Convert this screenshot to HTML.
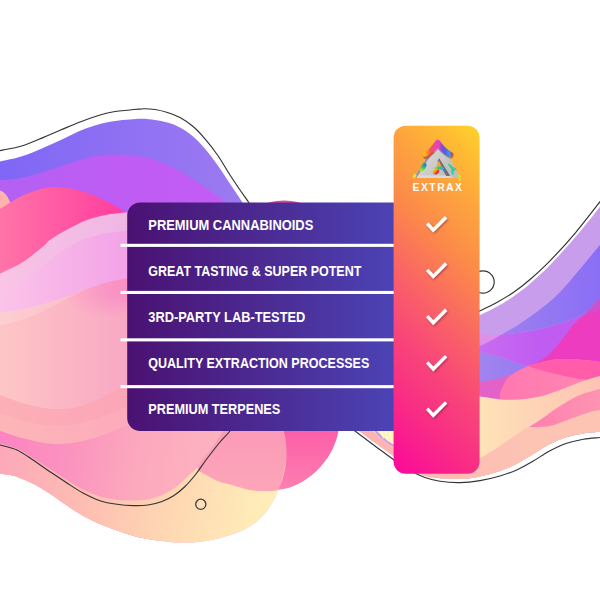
<!DOCTYPE html>
<html lang="en"><head><meta charset="utf-8"><title>Extrax comparison</title>
<style>
html,body{margin:0;padding:0;background:#fff;}
body{width:600px;height:600px;overflow:hidden;}
svg{display:block;}
.lbl text{font-family:"Liberation Sans",Arial,sans-serif;font-weight:700;font-size:14.3px;fill:#fff;}
.brand{font-family:"Liberation Sans",Arial,sans-serif;font-weight:700;font-size:10.4px;fill:#fff;}
</style></head><body>
<svg width="600" height="600" viewBox="0 0 600 600">
<defs>
<linearGradient id="gBV" x1="0" y1="0" x2="1" y2="0"><stop offset="0" stop-color="#7f66f6"/><stop offset="1" stop-color="#a07cf0"/></linearGradient>
<linearGradient id="gVI" x1="0" y1="0" x2="1" y2="0"><stop offset="0" stop-color="#b260f3"/><stop offset="0.5" stop-color="#bf5cf4"/><stop offset="1" stop-color="#c45cf5"/></linearGradient>
<linearGradient id="gPK" gradientUnits="userSpaceOnUse" x1="0" y1="0" x2="130" y2="0"><stop offset="0" stop-color="#ff74a8"/><stop offset="1" stop-color="#ff3a9e"/></linearGradient>
<linearGradient id="gLP1" gradientUnits="userSpaceOnUse" x1="0" y1="0" x2="130" y2="0"><stop offset="0" stop-color="#f9c4e6"/><stop offset="1" stop-color="#efb6e4"/></linearGradient>
<linearGradient id="gLP2" gradientUnits="userSpaceOnUse" x1="0" y1="0" x2="130" y2="0"><stop offset="0" stop-color="#fbc4e8"/><stop offset="1" stop-color="#f3a2e8"/></linearGradient>
<linearGradient id="gBody" gradientUnits="userSpaceOnUse" x1="0" y1="0" x2="135" y2="0"><stop offset="0" stop-color="#fdc6c6"/><stop offset="0.55" stop-color="#fbb4c4"/><stop offset="1" stop-color="#f8a6c5"/></linearGradient>
<linearGradient id="gHot" gradientUnits="userSpaceOnUse" x1="0" y1="430" x2="230" y2="470"><stop offset="0" stop-color="#fb84c1"/><stop offset="0.3" stop-color="#fb92bf"/><stop offset="0.6" stop-color="#fca8bd"/><stop offset="1" stop-color="#fdb5c0"/></linearGradient>
<linearGradient id="gB1" gradientUnits="userSpaceOnUse" x1="0" y1="0" x2="135" y2="0"><stop offset="0" stop-color="#fcb0b6"/><stop offset="1" stop-color="#fca4b8"/></linearGradient>
<linearGradient id="gB2" gradientUnits="userSpaceOnUse" x1="0" y1="0" x2="135" y2="0"><stop offset="0" stop-color="#fdb6b8"/><stop offset="1" stop-color="#fcaabb"/></linearGradient>
<linearGradient id="gBase" gradientUnits="userSpaceOnUse" x1="0" y1="450" x2="285" y2="510"><stop offset="0" stop-color="#fca8ba"/><stop offset="0.3" stop-color="#fdbcb2"/><stop offset="0.6" stop-color="#fed6b2"/><stop offset="1" stop-color="#fff2ba"/></linearGradient>
<linearGradient id="gYel" gradientUnits="userSpaceOnUse" x1="120" y1="0" x2="280" y2="0"><stop offset="0" stop-color="#fdcdb2"/><stop offset="1" stop-color="#fff1b9"/></linearGradient>
<linearGradient id="gLobeA" x1="0" y1="0" x2="0" y2="1"><stop offset="0" stop-color="#fc98b8"/><stop offset="1" stop-color="#fca6b8"/></linearGradient>
<linearGradient id="gLobeB" x1="0" y1="0" x2="0" y2="1"><stop offset="0" stop-color="#fc5ca8"/><stop offset="1" stop-color="#fc7fb0"/></linearGradient>
<linearGradient id="gBV2" gradientUnits="userSpaceOnUse" x1="480" y1="0" x2="600" y2="0"><stop offset="0" stop-color="#a184ee"/><stop offset="1" stop-color="#8a6ef5"/></linearGradient>
<linearGradient id="gVB" gradientUnits="userSpaceOnUse" x1="480" y1="0" x2="600" y2="0"><stop offset="0" stop-color="#c86cf0"/><stop offset="0.5" stop-color="#c05cf2"/><stop offset="1" stop-color="#c25cf0"/></linearGradient>
<linearGradient id="gPB" gradientUnits="userSpaceOnUse" x1="500" y1="0" x2="600" y2="0"><stop offset="0" stop-color="#ff78b0"/><stop offset="1" stop-color="#ff88b0"/></linearGradient>
<linearGradient id="gPeach" gradientUnits="userSpaceOnUse" x1="480" y1="0" x2="600" y2="0"><stop offset="0" stop-color="#fee3b8"/><stop offset="1" stop-color="#fec2b4"/></linearGradient>
<linearGradient id="gSP" gradientUnits="userSpaceOnUse" x1="360" y1="0" x2="520" y2="0"><stop offset="0" stop-color="#fdb2b2"/><stop offset="1" stop-color="#fdc3b3"/></linearGradient>
<linearGradient id="gPKW" gradientUnits="userSpaceOnUse" x1="529" y1="0" x2="600" y2="0"><stop offset="0" stop-color="#fd80b0"/><stop offset="1" stop-color="#fd94b2"/></linearGradient>
<linearGradient id="gTable" gradientUnits="userSpaceOnUse" x1="127" y1="0" x2="394" y2="0"><stop offset="0" stop-color="#4a1172"/><stop offset="0.5" stop-color="#4b2a92"/><stop offset="1" stop-color="#4b43b5"/></linearGradient>
<linearGradient id="gCol" gradientUnits="userSpaceOnUse" x1="394" y1="474" x2="611" y2="257"><stop offset="0" stop-color="#fb089c"/><stop offset="0.2" stop-color="#f92e84"/><stop offset="0.35" stop-color="#f84878"/><stop offset="0.5" stop-color="#fa6862"/><stop offset="0.65" stop-color="#fc8a4a"/><stop offset="0.8" stop-color="#fda53d"/><stop offset="0.9" stop-color="#febb33"/><stop offset="1" stop-color="#ffd32a"/></linearGradient>
<linearGradient id="gTri" gradientUnits="userSpaceOnUse" x1="420" y1="150" x2="458" y2="180"><stop offset="0" stop-color="#dcdcdc"/><stop offset="0.55" stop-color="#c6c6c6"/><stop offset="1" stop-color="#b2b2b2"/></linearGradient>
<linearGradient id="gRain" gradientUnits="userSpaceOnUse" x1="422.5" y1="0" x2="453" y2="0"><stop offset="0" stop-color="#f6e41e"/><stop offset="0.13" stop-color="#f6a024"/><stop offset="0.27" stop-color="#f25060"/><stop offset="0.44" stop-color="#ee44a8"/><stop offset="0.54" stop-color="#d846c8"/><stop offset="0.64" stop-color="#8a46d8"/><stop offset="0.76" stop-color="#4a66e8"/><stop offset="0.88" stop-color="#3c9ce0"/><stop offset="1" stop-color="#d8304a"/></linearGradient>
<linearGradient id="gSp1" x1="0" y1="0" x2="0" y2="1"><stop offset="0" stop-color="#2f63e6"/><stop offset="0.5" stop-color="#2fc45a"/><stop offset="1" stop-color="#e6e02a"/></linearGradient>
<linearGradient id="gSp2" x1="0.2" y1="0" x2="0.6" y2="1"><stop offset="0" stop-color="#f4e222"/><stop offset="0.45" stop-color="#f29a24"/><stop offset="0.8" stop-color="#e62c2c"/><stop offset="1" stop-color="#d42430"/></linearGradient>
<linearGradient id="gSp2b" x1="0" y1="0" x2="1" y2="0.4"><stop offset="0" stop-color="#e8e030"/><stop offset="0.4" stop-color="#3ccc5c"/><stop offset="0.75" stop-color="#2cb4d8"/><stop offset="1" stop-color="#3a6ce0"/></linearGradient>
<linearGradient id="gSp3" x1="0" y1="0" x2="1" y2="1"><stop offset="0" stop-color="#38d858"/><stop offset="1" stop-color="#2cc2c6"/></linearGradient>
<linearGradient id="gSp4" x1="0" y1="0" x2="0" y2="1"><stop offset="0" stop-color="#c8e030"/><stop offset="1" stop-color="#f0e22a"/></linearGradient>
<radialGradient id="gTint" gradientUnits="userSpaceOnUse" cx="0" cy="0" r="1" gradientTransform="translate(146 281) rotate(-12) scale(82 34)"><stop offset="0" stop-color="#fb86c5" stop-opacity="0.95"/><stop offset="0.5" stop-color="#fa8cc5" stop-opacity="0.7"/><stop offset="1" stop-color="#fb90c4" stop-opacity="0"/></radialGradient>
<filter id="sh" x="-30%" y="-30%" width="160%" height="160%"><feDropShadow dx="1" dy="1.2" stdDeviation="0.9" flood-color="#5a1030" flood-opacity="0.45"/></filter>
</defs>
<rect width="600" height="600" fill="#fff"/>
<g id="bg">
<path d="M-5.0,162.5C-4.2,162.3 -4.5,162.5 0.0,161.5C4.5,160.5 14.8,158.6 22.0,156.3C29.2,154.1 35.8,151.1 43.0,148.0C50.2,144.9 58.5,141.0 65.0,138.0C71.5,135.0 76.2,132.3 82.0,130.0C87.8,127.7 94.5,125.5 100.0,124.0C105.5,122.5 110.0,121.8 115.0,121.0C120.0,120.2 125.4,119.9 130.0,119.5C134.6,119.1 138.3,118.7 142.5,118.8C146.7,118.8 150.8,119.4 155.0,120.0C159.2,120.6 163.3,121.2 167.5,122.5C171.7,123.8 175.8,125.2 180.0,127.5C184.2,129.8 188.3,132.5 192.5,136.0C196.7,139.5 200.8,143.9 205.0,148.8C209.2,153.6 213.3,159.2 217.5,165.0C221.7,170.8 225.8,177.5 230.0,183.8C234.2,190.0 235.8,192.3 242.5,202.5C249.2,212.7 265.4,237.9 270.0,245.0L270.0,320.0L-5.0,320.0Z" fill="url(#gBV)"/>
<path d="M-5.0,180.5C-4.2,180.4 -4.5,180.4 0.0,180.0C4.5,179.6 14.5,179.3 21.7,178.0C28.9,176.7 35.8,174.2 43.0,172.0C50.2,169.8 57.7,167.0 65.0,164.7C72.3,162.4 80.5,159.6 87.0,158.0C93.5,156.4 98.8,155.6 104.0,155.0C109.2,154.4 113.7,154.5 118.0,154.6C122.3,154.7 125.9,155.1 130.0,155.5C134.1,155.9 138.3,156.2 142.5,157.0C146.7,157.8 150.8,158.7 155.0,160.0C159.2,161.3 163.3,163.2 167.5,165.0C171.7,166.8 175.8,168.7 180.0,171.0C184.2,173.3 188.3,176.2 192.5,179.0C196.7,181.8 200.8,184.7 205.0,187.5C209.2,190.3 214.0,193.5 217.5,196.0C221.0,198.5 220.6,198.2 226.0,202.5C231.4,206.8 246.0,218.8 250.0,222.0L250.0,320.0L-5.0,320.0Z" fill="url(#gVI)"/>
<ellipse cx="-3" cy="214" rx="15" ry="24" fill="#ffb3ae"/>
<path d="M-5.0,213.0C-4.2,212.3 -1.9,210.3 0.0,209.0C1.9,207.7 2.9,207.2 6.5,205.0C10.1,202.8 15.6,198.8 21.7,196.0C27.8,193.2 36.9,189.9 43.0,188.5C49.1,187.1 53.0,187.2 58.5,187.4C64.0,187.6 69.5,188.0 76.0,189.6C82.5,191.2 91.0,194.3 97.5,197.0C104.0,199.7 110.3,203.3 115.0,206.0C119.7,208.7 121.5,210.4 125.7,213.4C129.9,216.4 137.6,222.2 140.0,224.0L140.0,330.0L-5.0,330.0Z" fill="url(#gPK)"/>
<path d="M-5.0,276.0C-4.2,275.6 -4.5,275.8 0.0,273.6C4.5,271.4 14.5,267.3 21.7,262.8C28.9,258.3 38.3,250.3 43.0,246.5C47.7,242.7 46.3,242.6 50.0,240.0C53.7,237.4 58.8,234.1 65.0,230.8C71.2,227.5 79.8,222.7 87.0,220.0C94.2,217.3 100.8,215.8 108.0,214.5C115.2,213.2 124.7,212.5 130.0,212.0C135.3,211.5 138.3,211.6 140.0,211.5L140.0,330.0L-5.0,330.0Z" fill="url(#gLP1)"/>
<path d="M-5.0,297.0C-4.2,296.7 -4.5,297.4 0.0,295.0C4.5,292.6 15.0,286.9 21.7,282.5C28.4,278.1 34.2,272.9 40.0,268.3C45.8,263.7 51.2,259.1 56.7,255.0C62.2,250.9 67.8,246.9 73.3,244.0C78.8,241.1 84.4,239.3 90.0,237.5C95.6,235.7 100.6,234.4 106.7,233.3C112.8,232.2 121.2,231.4 126.7,230.8C132.2,230.2 137.8,230.1 140.0,230.0L140.0,330.0L-5.0,330.0Z" fill="url(#gLP2)"/>
<path d="M-5.0,313.5C-4.2,313.4 -4.5,313.4 0.0,312.8C4.5,312.2 14.5,311.1 21.7,309.6C28.9,308.1 35.8,306.1 43.0,304.0C50.2,301.9 57.7,299.5 65.0,297.0C72.3,294.5 79.8,291.5 87.0,289.0C94.2,286.5 101.2,283.8 108.0,282.0C114.8,280.2 122.7,278.9 128.0,278.0C133.3,277.1 138.0,276.8 140.0,276.5L300.0,276.0L300.0,431.0L278.4,489.8C277.9,491.0 276.8,494.3 275.5,496.8C274.2,499.3 272.6,502.3 270.8,505.0C269.1,507.7 267.3,510.5 265.0,513.2C262.7,515.9 259.7,518.9 256.8,521.3C253.9,523.7 251.0,525.8 247.5,527.8C244.0,529.8 240.4,531.3 235.8,533.0C231.2,534.7 225.6,536.6 220.0,538.0C214.4,539.4 208.8,540.6 202.5,541.4C196.2,542.2 188.8,542.6 182.5,542.6C176.2,542.6 172.1,542.2 165.0,541.4C157.9,540.5 147.5,539.1 140.0,537.5C132.5,535.9 126.7,533.8 120.0,531.5C113.3,529.2 106.7,526.9 100.0,524.0C93.3,521.1 86.2,517.6 80.0,514.0C73.8,510.4 67.5,505.9 62.5,502.5C57.5,499.1 54.2,496.5 50.0,493.8C45.8,491.0 41.7,488.3 37.5,486.0C33.3,483.7 29.2,481.8 25.0,480.0C20.8,478.2 16.7,476.5 12.5,475.5C8.3,474.5 2.9,474.2 0.0,473.8C-2.9,473.3 -4.2,473.1 -5.0,473.0Z" fill="url(#gBody)"/>
<path d="M-5.0,313.5C-4.2,313.4 -4.5,313.4 0.0,312.8C4.5,312.2 14.5,311.1 21.7,309.6C28.9,308.1 35.8,306.1 43.0,304.0C50.2,301.9 57.7,299.5 65.0,297.0C72.3,294.5 79.8,291.5 87.0,289.0C94.2,286.5 101.2,283.8 108.0,282.0C114.8,280.2 122.7,278.9 128.0,278.0C133.3,277.1 138.0,276.8 140.0,276.5L140.0,330.0L-5.0,330.0Z" fill="url(#gTint)"/>
<path d="M-5.0,313.5C-4.2,313.4 -4.5,313.4 0.0,312.8C4.5,312.2 14.5,311.1 21.7,309.6C28.9,308.1 35.8,306.1 43.0,304.0C50.2,301.9 57.7,299.5 65.0,297.0C72.3,294.5 83.3,290.3 87.0,289.0C84.0,290.4 74.7,294.7 69.0,297.5C63.3,300.3 60.0,302.6 53.0,306.0C46.0,309.4 35.5,314.8 26.7,318.0C17.9,321.2 5.3,324.0 0.0,325.5C-5.3,327.0 -4.2,326.8 -5.0,327.0Z" fill="#fff" opacity="0.16"/>
<clipPath id="cBody"><path d="M-5.0,313.5C-4.2,313.4 -4.5,313.4 0.0,312.8C4.5,312.2 14.5,311.1 21.7,309.6C28.9,308.1 35.8,306.1 43.0,304.0C50.2,301.9 57.7,299.5 65.0,297.0C72.3,294.5 79.8,291.5 87.0,289.0C94.2,286.5 101.2,283.8 108.0,282.0C114.8,280.2 122.7,278.9 128.0,278.0C133.3,277.1 138.0,276.8 140.0,276.5L300.0,276.0L300.0,431.0L278.4,489.8C277.9,491.0 276.8,494.3 275.5,496.8C274.2,499.3 272.6,502.3 270.8,505.0C269.1,507.7 267.3,510.5 265.0,513.2C262.7,515.9 259.7,518.9 256.8,521.3C253.9,523.7 251.0,525.8 247.5,527.8C244.0,529.8 240.4,531.3 235.8,533.0C231.2,534.7 225.6,536.6 220.0,538.0C214.4,539.4 208.8,540.6 202.5,541.4C196.2,542.2 188.8,542.6 182.5,542.6C176.2,542.6 172.1,542.2 165.0,541.4C157.9,540.5 147.5,539.1 140.0,537.5C132.5,535.9 126.7,533.8 120.0,531.5C113.3,529.2 106.7,526.9 100.0,524.0C93.3,521.1 86.2,517.6 80.0,514.0C73.8,510.4 67.5,505.9 62.5,502.5C57.5,499.1 54.2,496.5 50.0,493.8C45.8,491.0 41.7,488.3 37.5,486.0C33.3,483.7 29.2,481.8 25.0,480.0C20.8,478.2 16.7,476.5 12.5,475.5C8.3,474.5 2.9,474.2 0.0,473.8C-2.9,473.3 -4.2,473.1 -5.0,473.0Z"/></clipPath>
<g clip-path="url(#cBody)">
<path d="M-5.0,393.5C-4.2,393.8 -5.0,393.3 0.0,395.0C5.0,396.7 16.7,401.5 25.0,403.8C33.3,406.0 41.7,408.1 50.0,408.8C58.3,409.4 66.7,409.2 75.0,407.5C83.3,405.8 92.5,402.1 100.0,398.8C107.5,395.4 114.2,391.0 120.0,387.5C125.8,384.0 132.5,379.6 135.0,378.0L160.0,560.0L-5.0,560.0Z" fill="url(#gB1)"/>
<path d="M-5.0,412.0C-4.2,412.3 -5.0,412.2 0.0,413.8C5.0,415.2 16.7,419.0 25.0,421.0C33.3,423.0 41.7,424.9 50.0,425.5C58.3,426.1 66.7,425.8 75.0,424.5C83.3,423.2 91.7,420.3 100.0,417.5C108.3,414.7 118.3,410.2 125.0,407.5C131.7,404.8 137.5,402.1 140.0,401.0L160.0,560.0L-5.0,560.0Z" fill="url(#gB2)"/>
<path d="M-5.0,429.0C-4.2,429.3 -5.0,429.4 0.0,431.0C5.0,432.6 16.7,436.6 25.0,438.8C33.3,440.9 41.7,443.1 50.0,443.8C58.3,444.4 66.7,443.8 75.0,442.5C83.3,441.2 91.7,438.8 100.0,436.0C108.3,433.2 119.2,428.2 125.0,426.0C130.8,423.8 129.2,424.8 135.0,422.5C140.8,420.2 155.8,413.8 160.0,412.0L300.0,412.0L300.0,560.0L-5.0,560.0Z" fill="url(#gBase)"/>
<path d="M-5.0,429.0C-4.2,429.3 -5.0,429.4 0.0,431.0C5.0,432.6 16.7,436.6 25.0,438.8C33.3,440.9 41.7,443.1 50.0,443.8C58.3,444.4 66.7,443.8 75.0,442.5C83.3,441.2 91.7,438.8 100.0,436.0C108.3,433.2 119.2,428.2 125.0,426.0C130.8,423.8 129.2,424.8 135.0,422.5C140.8,420.2 155.8,413.8 160.0,412.0L232.0,412.0L232.0,418.0C230.5,420.2 225.4,427.5 223.0,431.0C220.6,434.5 220.1,435.2 217.5,439.0C214.9,442.8 210.8,448.8 207.5,453.5C204.2,458.2 200.8,463.4 197.5,467.2C194.2,470.9 191.6,472.7 188.0,476.0C184.4,479.3 180.7,483.7 176.0,487.0C171.3,490.3 165.2,493.9 160.0,496.0C154.8,498.1 150.0,499.0 145.0,499.8C140.0,500.6 134.7,500.6 130.0,500.6C125.3,500.6 122.0,500.4 117.0,499.7C112.0,499.0 105.7,498.2 100.0,496.5C94.3,494.8 88.5,492.2 83.0,489.5C77.5,486.8 72.5,483.4 67.0,480.0C61.5,476.6 55.7,472.7 50.0,469.0C44.3,465.3 38.5,461.4 33.0,458.0C27.5,454.6 22.5,450.9 17.0,448.5C11.5,446.1 3.7,444.7 0.0,443.5C-3.7,442.3 -4.2,441.8 -5.0,441.5Z" fill="url(#gHot)"/>
</g>
<path d="M223.0,431.0C220.8,434.2 214.2,444.0 210.0,450.0C205.8,456.0 198.0,462.9 197.5,467.2C197.0,471.4 203.4,473.1 207.0,475.5C210.6,477.9 215.2,480.0 219.0,481.5C222.8,483.0 226.2,483.5 230.0,484.6C233.8,485.7 237.8,487.0 241.7,488.0C245.6,489.0 249.4,489.9 253.3,490.4C257.2,490.9 260.8,491.1 265.0,491.0C269.2,490.9 275.7,491.4 278.4,489.8C281.1,488.2 280.3,485.0 281.3,481.7C282.3,478.4 283.4,475.3 284.3,470.0C285.2,464.7 287.1,456.5 287.0,450.0C286.9,443.5 284.1,434.2 283.5,431.0L283.0,420.0L223.0,420.0Z" fill="url(#gLobeA)"/>
<path d="M283,425 L283.5,431 C288.5,448 287.5,470 278.4,489.8 C305,487.5 333,462 338.5,431 L339,425Z" fill="url(#gLobeB)"/>
<ellipse cx="284" cy="206" rx="19" ry="5.5" fill="#e8449c"/>
<clipPath id="cR"><path d="M610.0,193.0C608.3,195.3 605.8,199.3 600.0,206.7C594.2,214.1 583.3,227.8 575.0,237.5C566.7,247.2 557.5,257.3 550.0,265.0C542.5,272.7 536.2,278.4 530.0,283.7C523.8,289.0 518.5,292.9 513.0,296.7C507.4,300.5 502.2,303.6 496.7,306.7C491.2,309.8 489.4,310.6 480.0,315.0C470.6,319.4 453.3,327.2 440.0,333.0C426.7,338.8 406.7,347.2 400.0,350.0L340.0,412.0C341.5,415.6 349.5,423.5 358.8,430.8C368.1,438.1 383.8,449.1 394.0,456.3C404.2,463.5 412.3,470.3 420.0,474.0C427.7,477.7 433.3,477.5 440.0,478.3C446.7,479.1 453.3,479.2 460.0,478.9C466.7,478.6 473.3,477.7 480.0,476.4C486.7,475.1 493.9,473.1 500.0,471.0C506.1,468.9 511.2,466.6 516.7,463.8C522.2,461.0 527.8,457.3 533.3,454.0C538.8,450.7 544.4,446.8 550.0,444.0C555.6,441.2 561.2,438.8 566.7,437.0C572.2,435.2 577.8,434.3 583.3,433.4C588.8,432.5 596.2,432.1 600.0,431.8C603.8,431.5 605.0,431.5 606.0,431.4Z"/></clipPath>
<g clip-path="url(#cR)">
<path d="M340,190H610V500H340Z" fill="#c89dec"/>
<path d="M612.0,231.0C610.0,233.3 604.5,239.7 600.0,245.0C595.5,250.3 590.0,257.0 585.0,263.0C580.0,269.0 575.0,275.3 570.0,281.0C565.0,286.7 560.3,292.0 555.0,297.0C549.7,302.0 543.8,306.6 538.3,310.8C532.8,315.1 527.2,318.9 521.7,322.5C516.2,326.1 511.9,328.6 505.0,332.5C498.1,336.4 490.8,341.4 480.0,346.0C469.2,350.6 446.7,357.7 440.0,360.0L440.0,500.0L606.0,500.0Z" fill="url(#gBV2)"/>
<path d="M440.0,331.0C446.7,331.5 470.0,333.4 480.0,334.0C490.0,334.6 491.7,335.3 500.0,334.8C508.3,334.3 521.7,332.4 530.0,331.0C538.3,329.6 544.2,328.0 550.0,326.5C555.8,325.0 560.0,323.8 565.0,322.0C570.0,320.2 575.8,318.2 580.0,316.0C584.2,313.8 586.7,311.7 590.0,309.0C593.3,306.3 597.3,302.3 600.0,300.0C602.7,297.7 605.0,295.8 606.0,295.0L606.0,380.0C598.3,378.7 573.0,374.3 560.0,372.0C547.0,369.7 534.7,367.3 528.0,366.0C521.3,364.7 524.7,365.5 520.0,364.0C515.3,362.5 506.7,359.0 500.0,357.0C493.3,355.0 490.0,353.8 480.0,352.0C470.0,350.2 446.7,347.0 440.0,346.0Z" fill="#dd8fe9"/>
<clipPath id="cBV2"><path d="M612.0,231.0C610.0,233.3 604.5,239.7 600.0,245.0C595.5,250.3 590.0,257.0 585.0,263.0C580.0,269.0 575.0,275.3 570.0,281.0C565.0,286.7 560.3,292.0 555.0,297.0C549.7,302.0 543.8,306.6 538.3,310.8C532.8,315.1 527.2,318.9 521.7,322.5C516.2,326.1 511.9,328.6 505.0,332.5C498.1,336.4 490.8,341.4 480.0,346.0C469.2,350.6 446.7,357.7 440.0,360.0L440.0,500.0L606.0,500.0Z"/></clipPath>
<path d="M440.0,331.0C446.7,331.5 470.0,333.4 480.0,334.0C490.0,334.6 491.7,335.3 500.0,334.8C508.3,334.3 521.7,332.4 530.0,331.0C538.3,329.6 544.2,328.0 550.0,326.5C555.8,325.0 560.0,323.8 565.0,322.0C570.0,320.2 575.8,318.2 580.0,316.0C584.2,313.8 586.7,311.7 590.0,309.0C593.3,306.3 597.3,302.3 600.0,300.0C602.7,297.7 605.0,295.8 606.0,295.0L606.0,380.0C598.3,378.7 573.0,374.3 560.0,372.0C547.0,369.7 534.7,367.3 528.0,366.0C521.3,364.7 524.7,365.5 520.0,364.0C515.3,362.5 506.7,359.0 500.0,357.0C493.3,355.0 490.0,353.8 480.0,352.0C470.0,350.2 446.7,347.0 440.0,346.0Z" fill="url(#gVB)" clip-path="url(#cBV2)"/>
<path d="M440.0,386.0C446.7,385.3 471.3,382.6 480.0,381.6C488.7,380.6 488.0,380.8 492.0,380.0C496.0,379.2 499.3,378.7 504.0,377.0C508.7,375.3 515.7,372.0 520.0,370.0C524.3,368.0 528.3,365.8 530.0,365.0L530.0,420.0L440.0,420.0Z" fill="#e262c8"/>
<path d="M612.0,306.0C610.0,306.7 603.7,308.8 600.0,310.0C596.3,311.2 593.3,312.1 590.0,313.5C586.7,314.9 582.8,316.6 580.0,318.5C577.2,320.4 575.2,322.6 573.0,325.0C570.8,327.4 569.0,330.3 567.0,333.0C565.0,335.7 563.0,338.4 561.0,341.0C559.0,343.6 557.1,345.9 554.7,348.5C552.3,351.1 549.5,354.2 546.7,356.5C543.9,358.8 541.1,360.3 538.0,362.0C534.9,363.7 529.7,365.8 528.0,366.5C531.0,365.2 540.0,362.2 546.0,361.0C552.0,359.8 557.7,359.2 564.0,359.0C570.3,358.8 578.0,359.5 584.0,360.0C590.0,360.5 596.3,361.5 600.0,362.0C603.7,362.5 605.0,362.8 606.0,363.0Z" fill="#ee3cc0"/>
<path d="M578,320 Q590,310 606,292 L606,309 L600,310 Q588,314 578,320Z" fill="#d24ec8"/>
<path d="M528.0,366.0C526.0,367.0 519.3,370.0 516.0,372.0C512.7,374.0 510.2,375.7 508.0,378.0C505.8,380.3 504.3,383.3 503.0,386.0C501.7,388.7 500.5,391.3 500.0,394.0C499.5,396.7 500.0,400.7 500.0,402.0L606.0,402.0L606.0,363.0C605.0,362.8 603.7,362.5 600.0,362.0C596.3,361.5 590.0,360.5 584.0,360.0C578.0,359.5 570.3,358.8 564.0,359.0C557.7,359.2 552.0,359.8 546.0,361.0C540.0,362.2 531.0,365.2 528.0,366.0Z" fill="url(#gPB)"/>
<path d="M528.0,366.0C531.0,365.2 540.0,362.2 546.0,361.0C552.0,359.8 557.7,359.2 564.0,359.0C570.3,358.8 578.0,359.5 584.0,360.0C590.0,360.5 596.3,361.5 600.0,362.0C603.7,362.5 605.0,362.8 606.0,363.0L606.0,378.0C603.3,378.2 594.3,379.3 590.0,379.5C585.7,379.7 585.0,379.8 580.0,379.0C575.0,378.2 566.7,376.5 560.0,375.0C553.3,373.5 545.3,371.5 540.0,370.0C534.7,368.5 530.0,366.7 528.0,366.0Z" fill="#ff5caa"/>
<path d="M440.0,392.0C446.7,392.8 470.0,395.4 480.0,396.6C490.0,397.8 493.3,398.9 500.0,399.4C506.7,399.9 513.3,399.9 520.0,399.4C526.7,398.9 533.3,398.2 540.0,396.6C546.7,395.0 553.3,392.4 560.0,390.0C566.7,387.6 573.3,384.3 580.0,382.0C586.7,379.7 595.7,377.2 600.0,376.0C604.3,374.8 605.0,374.8 606.0,374.5L606.0,500.0L340.0,500.0L340.0,392.0Z" fill="url(#gPeach)"/>
<path d="M335.0,399.0C339.3,402.9 351.2,414.6 361.0,422.5C370.8,430.4 384.2,439.2 394.0,446.5C403.8,453.8 410.7,462.1 420.0,466.0C429.3,469.9 440.0,471.3 450.0,470.0C460.0,468.7 471.7,462.0 480.0,458.0C488.3,454.0 493.3,450.3 500.0,446.0C506.7,441.7 515.2,435.2 520.0,432.0C524.8,428.8 524.0,428.0 529.0,427.0C534.0,426.0 543.2,427.3 550.0,426.0C556.8,424.7 563.3,421.3 570.0,419.0C576.7,416.7 585.0,413.5 590.0,412.0C595.0,410.5 597.3,410.5 600.0,410.0C602.7,409.5 605.0,409.2 606.0,409.0L606.0,500.0L335.0,500.0Z" fill="url(#gSP)"/>
<path d="M529.0,427.0C530.8,425.8 534.8,423.5 540.0,420.0C545.2,416.5 553.3,410.2 560.0,406.0C566.7,401.8 573.3,397.8 580.0,395.0C586.7,392.2 595.7,390.2 600.0,389.0C604.3,387.8 605.0,388.2 606.0,388.0L606.0,409.0C605.0,409.2 602.7,409.5 600.0,410.0C597.3,410.5 595.0,410.5 590.0,412.0C585.0,413.5 576.7,416.7 570.0,419.0C563.3,421.3 556.8,424.7 550.0,426.0C543.2,427.3 532.5,426.8 529.0,427.0Z" fill="url(#gPKW)"/>
<path d="M369.8,425 Q378,438.5 398,449 L398,425Z" fill="#bd9cf2"/>
<path d="M372.6,425 Q380,437.6 398,447.4 L398,425Z" fill="#fdf3b4"/>
<path d="M381.2,431 L383.4,438.5 M385.2,431 L388.3,441.5 M389.4,431 L392.3,443" stroke="#fffbe6" stroke-width="1.1" opacity="0.8" fill="none"/>
</g>
<path d="M-5.0,152.0C-4.2,151.8 -4.5,151.6 0.0,150.6C4.5,149.6 14.5,148.2 21.7,146.0C28.9,143.8 36.5,140.3 43.0,137.6C49.5,134.9 54.5,132.6 60.7,130.0C66.9,127.4 73.5,124.5 80.0,122.0C86.5,119.5 94.2,116.8 100.0,115.0C105.8,113.2 110.0,112.3 115.0,111.5C120.0,110.7 125.4,110.5 130.0,110.0C134.6,109.5 138.3,108.8 142.5,108.8C146.7,108.7 150.8,108.9 155.0,109.5C159.2,110.1 163.3,111.2 167.5,112.5C171.7,113.8 175.8,115.2 180.0,117.5C184.2,119.8 188.3,122.5 192.5,126.0C196.7,129.5 200.8,133.9 205.0,138.8C209.2,143.6 213.3,149.0 217.5,155.0C221.7,161.0 226.2,169.2 230.0,175.0C233.8,180.8 236.9,185.4 240.0,190.0C243.1,194.6 245.4,197.5 248.8,202.5C252.1,207.5 258.1,217.1 260.0,220.0" fill="none" stroke="#333336" stroke-width="1.15"/>
<path d="M335.0,416.5C338.3,418.9 348.3,426.1 355.0,431.0C361.7,435.9 368.5,441.2 375.0,446.0C381.5,450.8 388.2,455.9 394.0,460.0C399.8,464.1 404.8,467.6 410.0,470.5C415.2,473.4 420.0,475.7 425.0,477.5C430.0,479.3 434.2,480.4 440.0,481.3C445.8,482.2 453.3,482.7 460.0,482.6C466.7,482.5 473.3,481.7 480.0,480.6C486.7,479.5 493.9,477.8 500.0,476.0C506.1,474.2 511.2,472.5 516.7,470.0C522.2,467.5 527.8,464.2 533.3,461.0C538.8,457.8 544.4,453.8 550.0,450.8C555.6,447.9 561.2,445.2 566.7,443.3C572.2,441.4 577.8,440.2 583.3,439.2C588.8,438.2 595.9,437.9 600.0,437.5C604.1,437.1 606.7,437.1 608.0,437.0" fill="none" stroke="#333336" stroke-width="1.15"/>
<path d="M610.0,188.0C608.3,190.3 605.8,194.1 600.0,201.7C594.2,209.2 583.3,223.5 575.0,233.3C566.7,243.2 557.5,253.1 550.0,260.8C542.5,268.5 536.1,274.2 530.0,279.5C523.9,284.8 518.8,288.7 513.3,292.5C507.7,296.3 502.2,299.4 496.7,302.5C491.1,305.6 486.1,307.9 480.0,310.8C473.9,313.7 463.3,318.5 460.0,320.0" fill="none" stroke="#333336" stroke-width="1.15"/>
<path d="M-5.0,443.0C-4.2,443.3 -3.7,443.8 0.0,445.0C3.7,446.2 11.5,447.5 17.0,450.0C22.5,452.5 27.5,456.4 33.0,460.0C38.5,463.6 44.3,467.9 50.0,471.7C55.7,475.5 61.5,479.4 67.0,483.0C72.5,486.6 77.5,490.1 83.0,493.0C88.5,495.9 94.3,498.8 100.0,500.7C105.7,502.6 111.5,503.5 117.0,504.3C122.5,505.1 127.8,505.5 133.0,505.6C138.2,505.7 143.2,505.7 148.0,505.0C152.8,504.3 157.7,503.1 162.0,501.5C166.3,499.9 170.2,498.0 174.0,495.5C177.8,493.0 181.3,490.1 185.0,486.5C188.7,482.9 192.5,478.4 196.0,474.0C199.5,469.6 202.0,465.3 206.0,460.0C210.0,454.7 216.0,446.8 220.0,442.0C224.0,437.2 226.7,435.3 230.0,431.0C233.3,426.7 238.3,418.5 240.0,416.0" fill="none" stroke="#333336" stroke-width="1.15"/>
<circle cx="200.8" cy="504.3" r="5.1" fill="none" stroke="#3c3c40" stroke-width="1.3"/>
<circle cx="483" cy="282" r="11.2" fill="none" stroke="#333336" stroke-width="1.15"/>
</g>
<g id="table">
<path d="M140.2,202.5H400V431H140.2a13,13 0 0 1 -13,-13V215.5a13,13 0 0 1 13,-13Z" fill="url(#gTable)"/>
<rect x="120.5" y="243.8" width="274" height="3.1" fill="#fff"/>
<rect x="120.5" y="290.9" width="274" height="3.1" fill="#fff"/>
<rect x="120.5" y="338.3" width="274" height="3.1" fill="#fff"/>
<rect x="120.5" y="385.1" width="274" height="3.1" fill="#fff"/>
<g class="lbl">
<text x="148.3" y="230.0" textLength="165" lengthAdjust="spacingAndGlyphs">PREMIUM CANNABINOIDS</text>
<text x="148.3" y="276.1" textLength="213" lengthAdjust="spacingAndGlyphs">GREAT TASTING &amp; SUPER POTENT</text>
<text x="148.3" y="322.0" textLength="157" lengthAdjust="spacingAndGlyphs">3RD-PARTY LAB-TESTED</text>
<text x="148.3" y="367.7" textLength="221" lengthAdjust="spacingAndGlyphs">QUALITY EXTRACTION PROCESSES</text>
<text x="148.3" y="413.7" textLength="132" lengthAdjust="spacingAndGlyphs">PREMIUM TERPENES</text>
</g>
</g>
<g id="column">
<rect x="393.6" y="125.8" width="86" height="348" rx="12" ry="12" fill="url(#gCol)"/>
<g fill="none" stroke="#fff" stroke-width="3.4" stroke-linejoin="miter" filter="url(#sh)">
<path d="M427.2,223.5 L433.3,230.1 L446.1,217.2"/>
<path d="M427.2,269.8 L433.3,276.4 L446.1,263.5"/>
<path d="M427.2,316.1 L433.3,322.7 L446.1,309.8"/>
<path d="M427.2,362.4 L433.3,369.0 L446.1,356.1"/>
<path d="M427.2,408.7 L433.3,415.3 L446.1,402.4"/>
</g>
<g id="logo">
<path d="M437.9,139.6 L460.4,178 L413.6,178Z" fill="url(#gTri)"/>
<path d="M437.9,139.6 L413.6,178 L416.6,178 L438.9,142.6Z" fill="#9a9a9a"/>
<path d="M416.6,178 L418.2,175.4 L451.5,175.4 L453,178Z" fill="#d9d9d9"/>
<path d="M439.2,158.2 L450.2,176 L446.4,176 L437.4,161.2Z" fill="#6f6f6f"/>
<path d="M438.9,160.6 L441.6,166.6 L436.4,166.6Z" fill="#f9a03c"/>
<path d="M443,150 L448,152 L460.4,178 L450.5,178Z" fill="#c2c2c2" opacity="0.55"/>
<path d="M425.8,154.9 Q431.5,151.5 437.6,142.8 Q443.5,151 450.2,154.4" fill="none" stroke="#55381a" stroke-opacity="0.35" stroke-width="6.6" stroke-linecap="round" stroke-linejoin="round" transform="translate(0.3 1)"/>
<path d="M425.8,154.9 Q431.5,151.5 437.6,142.8 Q443.5,151 450.2,154.4" fill="none" stroke="url(#gRain)" stroke-width="5.6" stroke-linecap="round" stroke-linejoin="round"/>
<path d="M433.8,147.3 L437.7,141 L441.6,147Z" fill="url(#gRain)" stroke="url(#gRain)" stroke-width="2.6" stroke-linejoin="round"/>
<path d="M424.6,157.6 Q428.5,157.4 433,152.6" fill="none" stroke="#ef3f26" stroke-width="1.5" stroke-linecap="round" opacity="0.9"/>
<ellipse cx="423.2" cy="167.2" rx="2.3" ry="4.6" transform="rotate(35 423.2 167.2)" fill="url(#gSp1)"/>
<path d="M433.4,168.4 Q437,165.6 441.6,166.6 Q445.2,168 446.2,172.2 Q443.6,169.6 440.6,169.8 Q437,169 433.4,168.4Z" fill="url(#gSp2b)"/>
<ellipse cx="435.9" cy="171.3" rx="3.4" ry="2.9" transform="rotate(-25 435.9 171.3)" fill="url(#gSp2)"/>
<path d="M447.6,163.6 Q451.2,164.2 452.8,167 Q455.6,167.4 457,170.2 Q454.4,169.8 453.6,171.4 Q454,174.6 452.4,175 Q450.8,172 451.4,169 Q448.8,166.8 447.6,163.6Z" fill="url(#gSp3)"/>
<ellipse cx="414.6" cy="176" rx="1.7" ry="2.3" transform="rotate(30 414.6 176)" fill="#f0de2a"/>
<path d="M458,174.6 Q459.6,173.6 460.8,175.6 L460.4,180.6 Q459.8,182.6 459,180.6Z" fill="url(#gSp4)"/>
<text class="brand" x="412.6" y="191" textLength="49.4" lengthAdjust="spacing">EXTRAX</text>
</g>
</g>
</svg>
</body></html>
